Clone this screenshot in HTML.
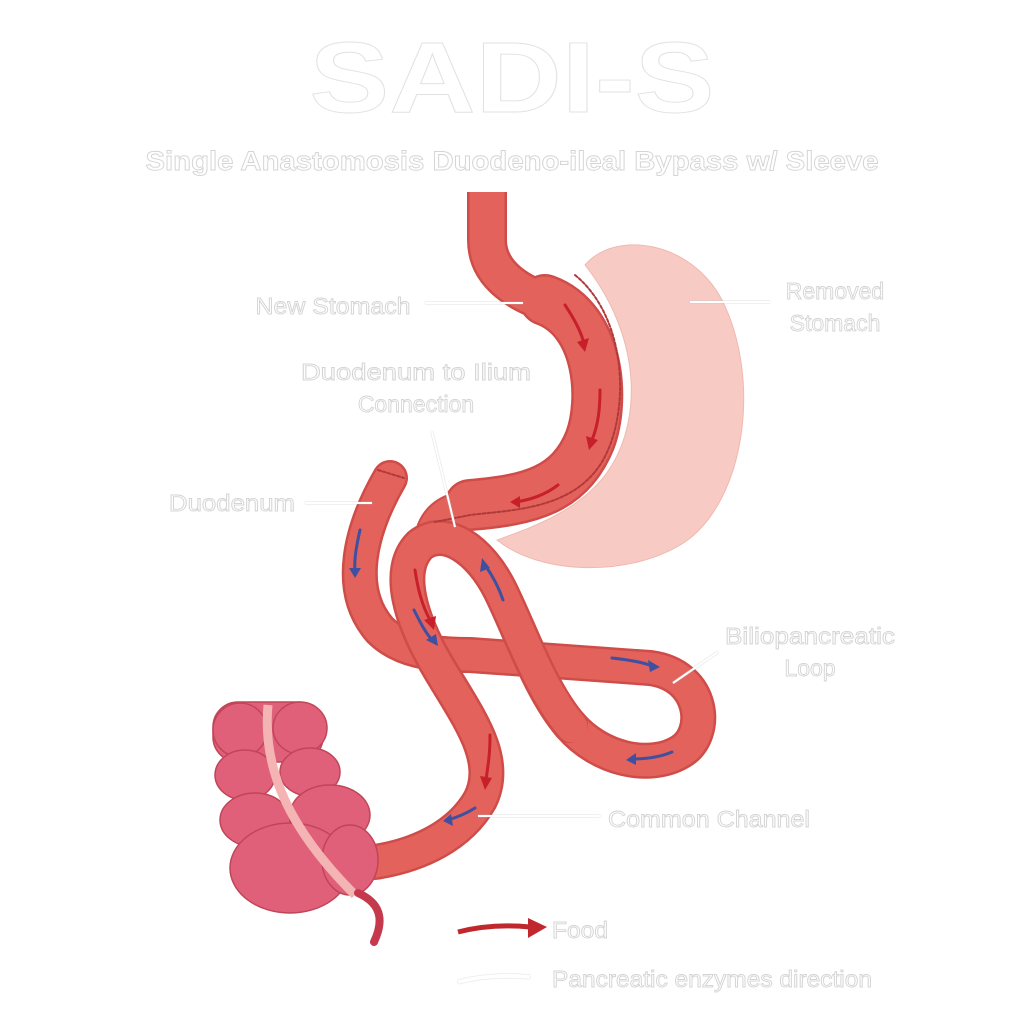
<!DOCTYPE html>
<html><head><meta charset="utf-8"><style>
html,body{margin:0;padding:0;background:#fff;}
svg{display:block;}
text{font-family:"Liberation Sans",sans-serif;fill:#fff;stroke:#d4d4d4;stroke-width:0.9;}
</style></head><body>
<svg width="1024" height="1024" viewBox="0 0 1024 1024">
<text x="512" y="112" font-size="100" font-weight="bold" text-anchor="middle" textLength="405" lengthAdjust="spacingAndGlyphs" style="stroke:#e2e2e2">SADI-S</text>
<text x="512" y="170" font-size="27" font-weight="bold" text-anchor="middle" textLength="733" lengthAdjust="spacingAndGlyphs">Single Anastomosis Duodeno-ileal Bypass w/ Sleeve</text>

<!-- removed stomach -->
<path d="M585,265 C615,230 690,240 722,300 C762,380 745,500 685,542 C630,578 540,575 497,540 C530,528 585,510 612,465 C642,415 640,335 585,265Z" fill="#f7cbc4" stroke="#f0b8b0" stroke-width="1"/>

<g fill="none" stroke-linecap="round" stroke-linejoin="round">
<g stroke="#cf4c48">
<path d="M487,192 L487,240 C487,275 520,295 555,305" stroke-width="40" stroke-linecap="butt"/>
<path d="M545,300 C600,320 605,400 590,440 C570,490 530,500 470,505" stroke-width="52"/>
<path d="M470,505 C450,508 438,515 432,530" stroke-width="32"/>
<path d="M390,478 C360,530 345,590 380,630 C400,650 430,655 470,655 L650,668 C705,675 710,735 680,752 C650,770 600,760 570,725" stroke-width="36"/>
</g>
<g stroke="#e3625c">
<path d="M487,192 L487,240 C487,275 520,295 555,305" stroke-width="35" stroke-linecap="butt"/>
<path d="M545,300 C600,320 605,400 590,440 C570,490 530,500 470,505" stroke-width="47"/>
<path d="M470,505 C450,508 438,515 432,530" stroke-width="28"/>
<path d="M390,478 C360,530 345,590 380,630 C400,650 430,655 470,655 L650,668 C705,675 710,735 680,752 C650,770 600,760 570,725" stroke-width="31"/>
</g>
<path d="M570,725 C540,690 520,630 500,590 C480,550 445,525 420,545 C395,570 410,620 440,670 C470,720 500,760 480,800 C460,835 420,855 375,862" stroke="#cf4c48" stroke-width="36"/>
<path d="M572,727 C540,690 520,630 500,590 C480,550 445,525 420,545 C395,570 410,620 440,670 C470,720 500,760 480,800 C460,835 420,855 375,862" stroke="#e3625c" stroke-width="31"/>
<!-- staple line -->
<path d="M575,275 C630,320 630,420 600,465 C570,510 510,510 470,515 L435,522" stroke="#b03a3a" stroke-width="2" stroke-dasharray="3,2"/>
<path d="M378,470 L404,478" stroke="#b03a3a" stroke-width="2" stroke-dasharray="3,2"/>
<!-- arrows red -->
<g stroke="#c8202a" stroke-width="3">
<path d="M565,305 C575,320 580,330 583,340"/>
<path d="M600,390 C600,410 598,425 592,440"/>
<path d="M558,485 C545,495 530,500 515,502"/>
<path d="M415,570 C418,590 422,605 430,620"/>
<path d="M490,735 C490,755 488,765 486,780"/>
</g>
<g stroke="#4050a0" stroke-width="3">
<path d="M360,530 C356,548 354,560 355,572"/>
<path d="M414,610 C420,622 425,632 432,640"/>
<path d="M503,600 C498,585 492,575 485,565"/>
<path d="M612,658 C630,660 642,662 652,666"/>
<path d="M672,752 C660,757 645,759 632,759"/>
<path d="M475,808 C467,813 458,817 448,820"/>
</g>
</g>
<g fill="#c8202a">
<polygon points="577,342 589,338 585,352"/>
<polygon points="586,436 598,440 589,450"/>
<polygon points="520,496 520,508 510,502"/>
<polygon points="424,620 436,616 434,630"/>
<polygon points="480,776 492,778 485,790"/>
</g>
<g fill="#4050a0">
<polygon points="349,568 361,568 355,578"/>
<polygon points="426,640 436,634 438,646"/>
<polygon points="480,572 490,568 482,558"/>
<polygon points="648,660 650,672 660,667"/>
<polygon points="636,753 636,765 626,760"/>
<polygon points="451,814 453,826 443,821"/>
</g>

<!-- colon -->
<g stroke="#c04558" stroke-width="1.5" fill="#e0607a">
<rect x="213" y="702" width="110" height="60" rx="25"/>
<ellipse cx="240" cy="730" rx="27" ry="27"/>
<ellipse cx="300" cy="728" rx="27" ry="26"/>
<ellipse cx="245" cy="775" rx="30" ry="25"/>
<ellipse cx="310" cy="772" rx="30" ry="24"/>
<ellipse cx="255" cy="820" rx="35" ry="27"/>
<ellipse cx="330" cy="815" rx="40" ry="30"/>
<ellipse cx="290" cy="868" rx="60" ry="45"/>
<ellipse cx="350" cy="860" rx="28" ry="35"/>
</g>
<path d="M268,705 C262,770 290,830 355,895" fill="none" stroke="#f5b4b4" stroke-width="9"/>
<path d="M358,893 C385,905 382,925 374,942" fill="none" stroke="#c43a4c" stroke-width="8" stroke-linecap="round"/>

<!-- leader lines -->
<g stroke="#fff" stroke-width="2" style="filter:drop-shadow(0 0 0.6px #bbb)">
<line x1="425" y1="303" x2="523" y2="303"/>
<line x1="690" y1="302" x2="770" y2="302"/>
<line x1="432" y1="432" x2="455" y2="527"/>
<line x1="305" y1="503" x2="372" y2="503"/>
<line x1="673" y1="683" x2="718" y2="652"/>
<line x1="478" y1="816" x2="600" y2="816"/>
</g>

<text x="333" y="314" font-size="23" text-anchor="middle" textLength="155" lengthAdjust="spacingAndGlyphs">New Stomach</text>
<text x="835" y="299" font-size="23" text-anchor="middle">Removed</text>
<text x="835" y="331" font-size="23" text-anchor="middle">Stomach</text>
<text x="416" y="380" font-size="23" text-anchor="middle" textLength="230" lengthAdjust="spacingAndGlyphs">Duodenum to Ilium</text>
<text x="416" y="412" font-size="23" text-anchor="middle">Connection</text>
<text x="232" y="511" font-size="23" text-anchor="middle" textLength="126" lengthAdjust="spacingAndGlyphs">Duodenum</text>
<text x="810" y="644" font-size="23" text-anchor="middle" textLength="170" lengthAdjust="spacingAndGlyphs">Biliopancreatic</text>
<text x="810" y="676" font-size="23" text-anchor="middle">Loop</text>
<text x="709" y="827" font-size="23" text-anchor="middle" textLength="202" lengthAdjust="spacingAndGlyphs">Common Channel</text>

<!-- legend -->
<path d="M458,932 C485,925 510,925 530,927" fill="none" stroke="#c0282e" stroke-width="5"/>
<polygon points="528,918 547,927 528,938" fill="#c0282e"/>
<path d="M458,982 C485,975 510,975 530,977" fill="none" stroke="#fff" stroke-width="4" style="filter:drop-shadow(0 0 0.6px #bbb)"/>
<text x="552" y="938" font-size="23" textLength="56" lengthAdjust="spacingAndGlyphs">Food</text>
<text x="552" y="987" font-size="23" textLength="320" lengthAdjust="spacingAndGlyphs">Pancreatic enzymes direction</text>
</svg>
</body></html>
